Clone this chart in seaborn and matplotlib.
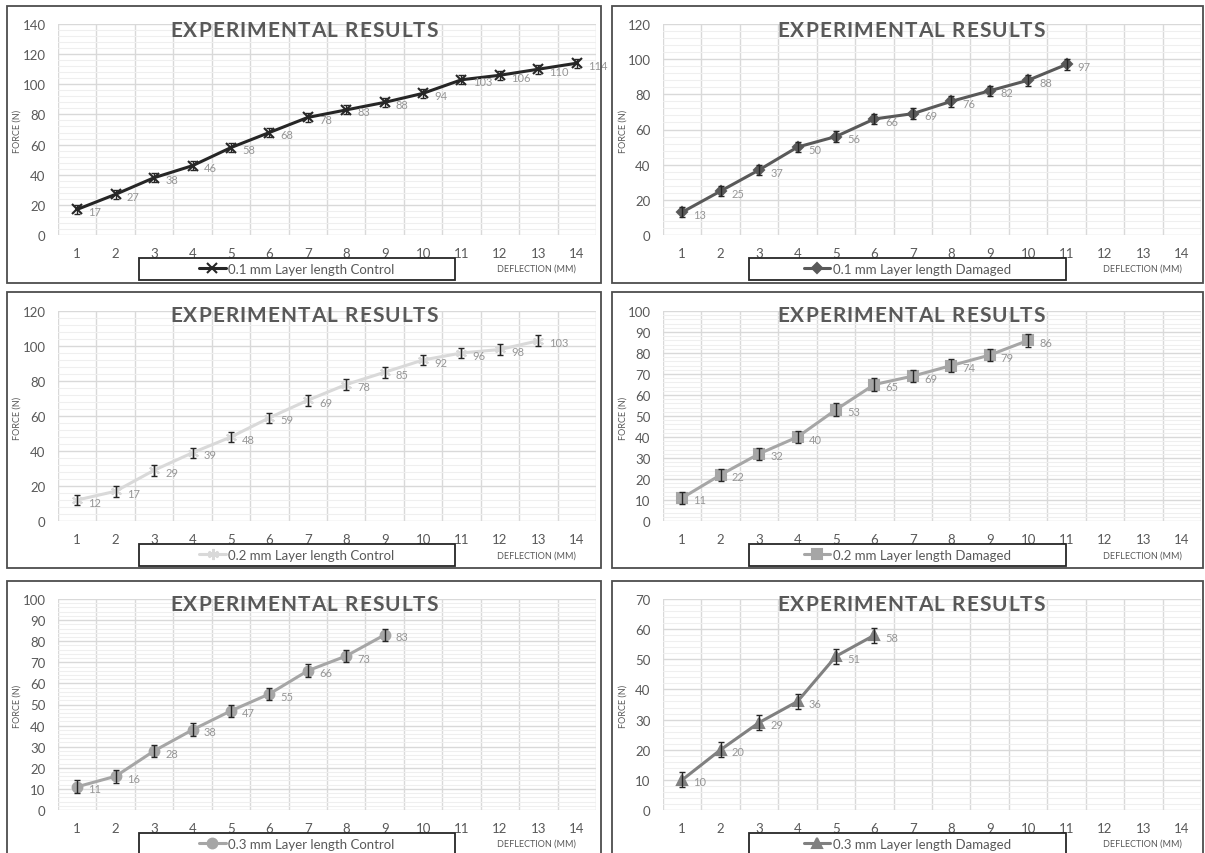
import numpy as np
import matplotlib
matplotlib.use("Agg")
import matplotlib.pyplot as plt
from matplotlib.patches import Rectangle
from matplotlib.font_manager import FontProperties
from matplotlib.textpath import text_to_path
import seaborn as sns

sns.set_style("white")
plt.rcParams['font.family'] = ['Lato', 'DejaVu Sans']

W, H = 1205, 854

# data
ctrl_01 = [17, 27, 38, 46, 58, 68, 78, 83, 88, 94, 103, 106, 110, 114]
dmg_01 = [13, 25, 37, 50, 56, 66, 69, 76, 82, 88, 97]
ctrl_02 = [12, 17, 29, 39, 48, 59, 69, 78, 85, 92, 96, 98, 103]
dmg_02 = [11, 22, 32, 40, 53, 65, 69, 74, 79, 86]
ctrl_03 = [11, 16, 28, 38, 47, 55, 66, 73, 83]
dmg_03 = [10, 20, 29, 36, 51, 58]
errors = [3, 3, 3, 3, 3, 2.5]
labels = ["0.1 mm Layer length Control", "0.1 mm Layer length Damaged",
          "0.2 mm Layer length Control", "0.2 mm Layer length Damaged",
          "0.3 mm Layer length Control", "0.3 mm Layer length Damaged"]
y_max = [140, 120, 120, 100, 100, 70]
y_step = [20, 20, 20, 10, 10, 10]
deflection = list(range(1, 15))
title = "EXPERIMENTAL RESULTS"

series = [ctrl_01, dmg_01, ctrl_02, dmg_02, ctrl_03, dmg_03]
colors = ["#262626", "#595959", "#d9d9d9", "#a6a6a6", "#a6a6a6", "#808080"]
markers = ["x", "D", (6, 2, 0), "s", "o", "^"]
msizes = [7, 5, 8, 7, 7, 7]

# layout in pixels (left, right) per column, (top, bottom) per row
cols = [(58, 596), (663, 1201)]
rows = [(25, 236), (312, 522), (600, 811)]
borders_x = [(7, 601), (612, 1203)]
borders_y = [(7, 284), (293, 569), (582, 870)]
legend_x = [(139, 455), (749, 1066)]
legend_y = [(259, 281), (545, 567), (834, 870)]
title_x = [170, 777]
title_w = 268
title_cy = [31, 316, 605]
xlab_c = [536, 1142]
xlab_y = [269, 556, 844]
ylab_x = [17, 623]
ylab_y = [131, 418, 706]


def fx(x):
    return x / W


def fy(y):
    return 1 - y / H


# Excel title is letter-spaced, so lay it out one character at a time
tprop = FontProperties(family="Lato", weight="bold", size=15)


def text_w(s):
    return text_to_path.get_text_width_height_descent(s, tprop, ismath=False)[0] * 100 / 72


space_w = text_w("A A") - text_w("AA")
char_w = [space_w if ch == " " else text_w(ch) for ch in title]
gap = (title_w - sum(char_w)) / (len(title) - 1)


def draw_title(x_left, y_c):
    x = x_left
    for ch, w in zip(title, char_w):
        if ch != " ":
            fig.text(fx(x), fy(y_c), ch, fontproperties=tprop, color="#595959",
                     ha="left", va="center")
        x += w + gap


fig = plt.figure(figsize=(W / 100, H / 100), dpi=100)

for i, ys in enumerate(series):
    r, c = divmod(i, 2)
    x0, x1 = cols[c]
    top, bot = rows[r]

    bx0, bx1 = borders_x[c]
    by0, by1 = borders_y[r]
    fig.add_artist(Rectangle((fx(bx0), fy(by1)), (bx1 - bx0) / W, (by1 - by0) / H,
                             transform=fig.transFigure, fill=False,
                             edgecolor="#4d4d4d", lw=1.3))

    ax = fig.add_axes([fx(x0), fy(bot), (x1 - x0) / W, (bot - top) / H])
    xs = deflection[:len(ys)]
    sns.lineplot(x=xs, y=ys, ax=ax, color=colors[i], marker=markers[i],
                 markersize=msizes[i], markeredgecolor=colors[i],
                 markeredgewidth=1.5, lw=2.2, label=labels[i], zorder=3)
    ax.errorbar(xs, ys, yerr=errors[i], fmt="none", ecolor="#262626",
                elinewidth=1, capsize=2.5, capthick=1, zorder=4)
    for xv, yv in zip(xs, ys):
        ax.annotate(str(yv), (xv, yv), xytext=(8, -1.5), textcoords="offset points",
                    fontsize=8, color="#969696", ha="left", va="center",
                    annotation_clip=False)

    ax.set_xlim(0.5, 14.5)
    ax.set_ylim(0, y_max[i])
    ax.set_xticks(deflection)
    ax.set_xticks(np.arange(0.5, 15, 1), minor=True)
    ax.set_yticks(np.arange(0, y_max[i] + 1, y_step[i]))
    ax.set_yticks(np.arange(0, y_max[i] + 0.1, y_step[i] / 5), minor=True)
    ax.xaxis.grid(True, which="minor", color="#d9d9d9", lw=1)
    ax.xaxis.grid(False, which="major")
    ax.yaxis.grid(True, which="major", color="#d9d9d9", lw=1)
    ax.yaxis.grid(True, which="minor", color="#efefef", lw=0.8)
    ax.set_axisbelow(True)
    ax.tick_params(which="both", length=0, labelsize=9.5, labelcolor="#595959")
    ax.tick_params(axis="x", pad=9)
    ax.tick_params(axis="y", pad=9)
    for s in ax.spines.values():
        s.set_visible(False)
    ax.set_xlabel("")
    ax.set_ylabel("")

    handles, labs = ax.get_legend_handles_labels()
    ax.get_legend().remove()

    lx0, lx1 = legend_x[c]
    ly0, ly1 = legend_y[r]
    fig.add_artist(Rectangle((fx(lx0), fy(ly1)), (lx1 - lx0) / W, (ly1 - ly0) / H,
                             transform=fig.transFigure, facecolor="white",
                             edgecolor="#262626", lw=1.3))
    ly_c = (ly0 + min(ly1, ly0 + 22)) / 2
    fig.legend(handles, labs, loc="center", bbox_to_anchor=(fx((lx0 + lx1) / 2), fy(ly_c)),
               frameon=False, fontsize=9.5, labelcolor="#595959",
               handlelength=2.0, handletextpad=0.2, borderpad=0)

    draw_title(title_x[c], title_cy[r])
    fig.text(fx(xlab_c[c]), fy(xlab_y[r]), "DEFLECTION (MM)", fontsize=6.5,
             color="#595959", ha="center", va="center")
    fig.text(fx(ylab_x[c]), fy(ylab_y[r]), "FORCE (N)", fontsize=6.5,
             color="#595959", ha="center", va="center", rotation=90)

fig.savefig("out.png", dpi=100)
